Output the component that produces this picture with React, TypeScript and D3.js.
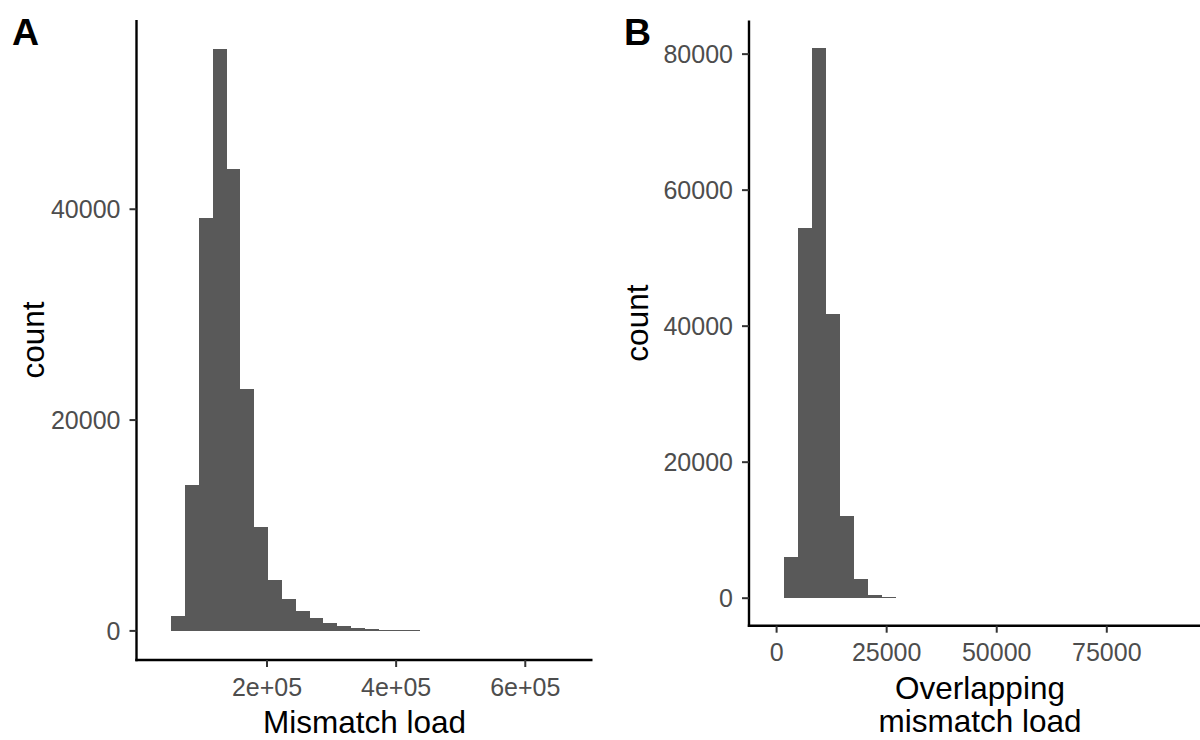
import React from "react";
import * as d3 from "d3";

// ---- Data ----
// Panel A: histogram of mismatch load (30 bins)
const binStartA = 30000;
const binWidthA = 21400;
const countsA = [
  0, 1420, 13830, 39190, 55190, 43800, 22940, 9820, 4870, 2980,
  1870, 1270, 730, 450, 260, 150, 120, 100, 90, 0,
  0, 0, 0, 0, 0, 0, 0, 0, 0, 0,
];
const xTicksA = [200000, 400000, 600000];
const xTickLabelsA = ["2e+05", "4e+05", "6e+05"];
const yTicksA = [0, 20000, 40000];

// Panel B: histogram of overlapping mismatch load (30 bins)
const binStartB = -1500;
const binWidthB = 3180;
const countsB = [
  0, 6120, 54500, 80900, 41850, 12050, 2840, 490, 190, 0,
  0, 0, 0, 0, 0, 0, 0, 0, 0, 0,
  0, 0, 0, 0, 0, 0, 0, 0, 0, 0,
];
const xTicksB = [0, 25000, 50000, 75000];
const xTickLabelsB = ["0", "25000", "50000", "75000"];
const yTicksB = [0, 20000, 40000, 60000, 80000];

const FONT = "'Liberation Sans', Arial, Helvetica, sans-serif";
const BAR = "#595959";
const TICK_TEXT = "#4D4D4D";
const TICK_LEN = 7;

type Box = { left: number; right: number; top: number; bottom: number };

function Histogram(props: {
  counts: number[];
  lo: number;
  w: number;
  box: Box;
  xTicks: number[];
  xLabels: string[];
  yTicks: number[];
  xTitle: string[];
  xTitleBaseline: number;
  xTickBaseline: number;
  yTitleX: number;
  tag: string;
  tagX: number;
}) {
  const { counts, lo, w, box } = props;
  const n = counts.length;
  const x = d3
    .scaleLinear()
    .domain([lo - 1.5 * w, lo + (n + 1.5) * w])
    .range([box.left, box.right]);
  const M = d3.max(counts) as number;
  const y = d3
    .scaleLinear()
    .domain([-0.05 * M, 1.05 * M])
    .range([box.bottom, box.top]);
  const midY = (box.top + box.bottom) / 2;
  const midX = (box.left + box.right) / 2;

  return (
    <g>
      <g shapeRendering="crispEdges">
        {counts.map((c, i) => {
          if (c <= 0) return null;
          const x0 = x(lo + i * w);
          const x1 = x(lo + (i + 1) * w);
          return (
            <rect
              key={i}
              x={x0}
              width={x1 - x0 + 0.3}
              y={y(c)}
              height={Math.max(1, y(0) - y(c))}
              fill={BAR}
            />
          );
        })}
      </g>
      {/* axis lines */}
      <line
        x1={box.left}
        x2={box.left}
        y1={box.top}
        y2={box.bottom + 1.2}
        stroke="#000"
        strokeWidth={2.4}
      />
      <line
        x1={box.left - 1.2}
        x2={box.right}
        y1={box.bottom}
        y2={box.bottom}
        stroke="#000"
        strokeWidth={2.4}
      />
      {/* y ticks */}
      {props.yTicks.map((t) => (
        <g key={"y" + t}>
          <line
            x1={box.left - TICK_LEN}
            x2={box.left}
            y1={y(t)}
            y2={y(t)}
            stroke="#333"
            strokeWidth={2}
          />
          <text
            x={box.left - TICK_LEN - 9}
            y={y(t)}
            dy="0.36em"
            textAnchor="end"
            fontFamily={FONT}
            fontSize={25}
            fill={TICK_TEXT}
          >
            {t}
          </text>
        </g>
      ))}
      {/* x ticks */}
      {props.xTicks.map((t, i) => (
        <g key={"x" + t}>
          <line
            x1={x(t)}
            x2={x(t)}
            y1={box.bottom}
            y2={box.bottom + TICK_LEN}
            stroke="#333"
            strokeWidth={2}
          />
          <text
            x={x(t)}
            y={props.xTickBaseline}
            textAnchor="middle"
            fontFamily={FONT}
            fontSize={25}
            fill={TICK_TEXT}
          >
            {props.xLabels[i]}
          </text>
        </g>
      ))}
      {/* axis titles */}
      {props.xTitle.map((line, i) => (
        <text
          key={"xt" + i}
          x={midX}
          y={props.xTitleBaseline + i * 33}
          textAnchor="middle"
          fontFamily={FONT}
          fontSize={31.5}
          fill="#000"
        >
          {line}
        </text>
      ))}
      <text
        transform={`translate(${props.yTitleX},${midY}) rotate(-90)`}
        textAnchor="middle"
        fontFamily={FONT}
        fontSize={31.5}
        fill="#000"
      >
        count
      </text>
      <text
        x={props.tagX}
        y={45}
        fontFamily={FONT}
        fontSize={37.5}
        fontWeight="bold"
        fill="#000"
      >
        {props.tag}
      </text>
    </g>
  );
}

export default function App() {
  return (
    <svg
      width={1200}
      height={740}
      style={{ position: "absolute", left: 0, top: 0, background: "#fff" }}
    >
      <rect x={0} y={0} width={1200} height={740} fill="#fff" />
      <Histogram
        counts={countsA}
        lo={binStartA}
        w={binWidthA}
        box={{ left: 136.5, right: 592.5, top: 20, bottom: 660 }}
        xTicks={xTicksA}
        xLabels={xTickLabelsA}
        yTicks={yTicksA}
        xTitle={["Mismatch load"]}
        xTitleBaseline={733}
        xTickBaseline={696}
        yTitleX={44}
        tag="A"
        tagX={12}
      />
      <Histogram
        counts={countsB}
        lo={binStartB}
        w={binWidthB}
        box={{ left: 749, right: 1211, top: 20.5, bottom: 625.7 }}
        xTicks={xTicksB}
        xLabels={xTickLabelsB}
        yTicks={yTicksB}
        xTitle={["Overlapping", "mismatch load"]}
        xTitleBaseline={699}
        xTickBaseline={661}
        yTitleX={648}
        tag="B"
        tagX={624}
      />
    </svg>
  );
}
